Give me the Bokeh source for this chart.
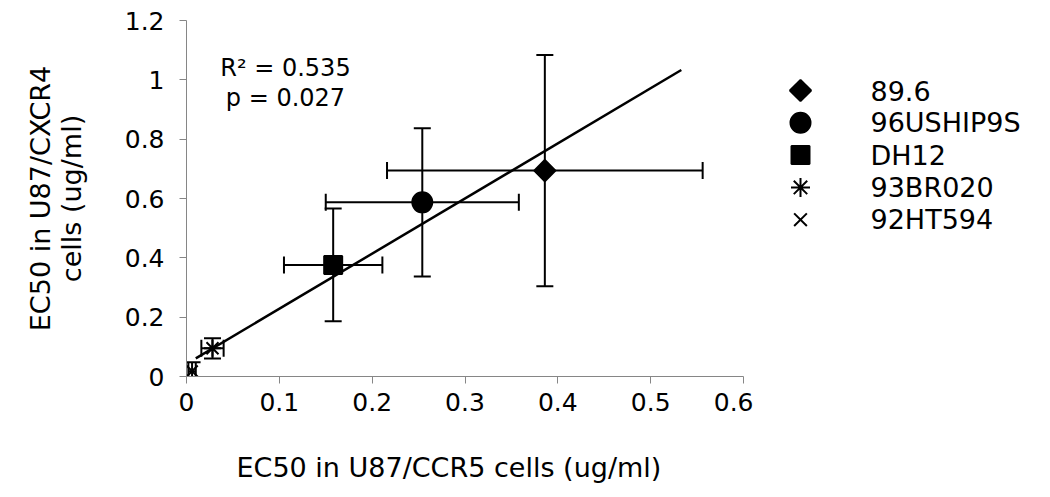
import numpy as np
from bokeh.plotting import figure
from bokeh.layouts import row
from bokeh.models import (Whisker, TeeHead, ColumnDataSource, FixedTicker, Label,
                          Range1d, Title)
from bokeh.core.properties import value
from bokeh.embed import file_html
from bokeh.resources import INLINE

# ---------------- data ----------------
strains = ["89.6", "96USHIP9S", "DH12", "93BR020", "92HT594"]
ec50_ccr5 = [0.386, 0.254, 0.158, 0.028, 0.006]
ccr5_err = [0.170, 0.104, 0.053, 0.012, 0.004]
ec50_cxcr4 = [0.694, 0.587, 0.376, 0.095, 0.018]
cxcr4_err = [0.390, 0.250, 0.190, 0.034, 0.030]
markers = ["square", "circle", "square", "asterisk", "x"]
marker_angles = [np.pi / 4, 0, 0, 0, 0]
marker_sizes = [15, 20, 18, 17, 16]

fit_x = [0.010, 0.533]
fit_y = [0.061, 1.033]

stats_text = ["R\u00b2 = 0.535", "p = 0.027"]

x_ticks = [0, 0.1, 0.2, 0.3, 0.4, 0.5, 0.6]
x_tick_labels = ["0", "0.1", "0.2", "0.3", "0.4", "0.5", "0.6"]
y_ticks = [0, 0.2, 0.4, 0.6, 0.8, 1.0, 1.2]
y_tick_labels = ["0", "0.2", "0.4", "0.6", "0.8", "1", "1.2"]

x_title = "EC50 in U87/CCR5 cells (ug/ml)"
y_title = "EC50 in U87/CXCR4\ncells (ug/ml)"

FONT = "DejaVu Sans"
GRAY = "#868686"
FRAME_H = 356

# ---------------- main plot ----------------
p = figure(frame_width=557, frame_height=FRAME_H, output_backend="svg", toolbar_location=None,
           x_range=Range1d(0, 0.6), y_range=Range1d(0, 1.2),
           min_border_left=186, min_border_right=10, min_border_top=20,
           min_border_bottom=100)
p.outline_line_color = None
p.xgrid.visible = False
p.ygrid.visible = False

for ax, ticks, labels in ((p.xaxis[0], x_ticks, x_tick_labels), (p.yaxis[0], y_ticks, y_tick_labels)):
    ax.ticker = FixedTicker(ticks=ticks)
    ax.major_label_overrides = {t: l for t, l in zip(ticks, labels)}
    ax.minor_tick_line_color = None
    ax.major_tick_in = 0
    ax.major_tick_out = 7
    ax.axis_line_color = GRAY
    ax.major_tick_line_color = GRAY
    ax.major_label_text_font = FONT
    ax.major_label_text_font_size = "25px"
    ax.major_label_text_color = "black"
    ax.axis_label_text_font = FONT
    ax.axis_label_text_font_size = "27px"
    ax.axis_label_text_font_style = "normal"
    ax.axis_label_text_color = "black"

p.xaxis.major_label_standoff = 9
p.yaxis.major_label_standoff = 15
p.yaxis.axis_label = y_title
p.yaxis.axis_label_text_line_height = 1.0
p.yaxis.axis_label_standoff = 35

src = ColumnDataSource(dict(
    x=ec50_ccr5, y=ec50_cxcr4,
    xl=[a - b for a, b in zip(ec50_ccr5, ccr5_err)],
    xu=[a + b for a, b in zip(ec50_ccr5, ccr5_err)],
    yl=[a - b for a, b in zip(ec50_cxcr4, cxcr4_err)],
    yu=[a + b for a, b in zip(ec50_cxcr4, cxcr4_err)],
))

for dim, base, lo, hi in (("height", "x", "yl", "yu"), ("width", "y", "xl", "xu")):
    p.add_layout(Whisker(source=src, base=base, lower=lo, upper=hi, dimension=dim,
                         line_color="black", line_width=2,
                         upper_head=TeeHead(size=17, line_width=2, line_color="black"),
                         lower_head=TeeHead(size=17, line_width=2, line_color="black")))

for i, name in enumerate(strains):
    p.scatter([ec50_ccr5[i]], [ec50_cxcr4[i]], marker=markers[i], size=marker_sizes[i],
              angle=marker_angles[i], fill_color="black", line_color="black", line_width=2)

p.line(fit_x, fit_y, line_color="black", line_width=2.5)

for t, yy in zip(stats_text, [1.04, 0.939]):
    p.add_layout(Label(x=0.1066, y=yy, text=t, text_align="center", text_baseline="middle",
                       text_font=FONT, text_font_size="24px", text_color="black"))

xt = Title(text=x_title, align="left", offset=50, standoff=72,
           text_font=FONT, text_font_size="27px", text_font_style="normal",
           text_color="black")
p.add_layout(xt, "below")

# ---------------- legend (separate panel, frame aligned with main frame) ----------------
LEG_W = 281
ROW_PX = 32.3          # legend row pitch in pixels
FIRST_ROW_PX = 70      # first row centre below frame top
units = FRAME_H / ROW_PX
top_val = -FIRST_ROW_PX / ROW_PX
lg = figure(width=LEG_W, frame_height=FRAME_H, output_backend="svg", toolbar_location=None,
            x_range=Range1d(0, LEG_W), y_range=Range1d(start=top_val + units, end=top_val),
            x_axis_location=None, y_axis_location=None,
            min_border_left=0, min_border_right=0, min_border_top=20, min_border_bottom=100)
lg.outline_line_color = None
lg.xgrid.visible = False
lg.ygrid.visible = False

leg_src = ColumnDataSource(dict(name=strains, row=list(range(len(strains))),
                                marker=markers, angle=marker_angles,
                                size=[s + 2 if m in ("asterisk", "x") else s
                                      for s, m in zip(marker_sizes, markers)],
                                mx=[47] * len(strains), tx=[117] * len(strains)))
lg.scatter(x="mx", y="row", marker="marker", size="size", angle="angle", source=leg_src,
           fill_color="black", line_color="black", line_width=2)
lg.text(x="tx", y="row", text="name", source=leg_src, text_baseline="middle",
        text_align="left", text_font=value(FONT), text_font_size="27px", text_color="black")

layout = row(p, lg)
open("out.html", "w").write(file_html(layout, INLINE))
